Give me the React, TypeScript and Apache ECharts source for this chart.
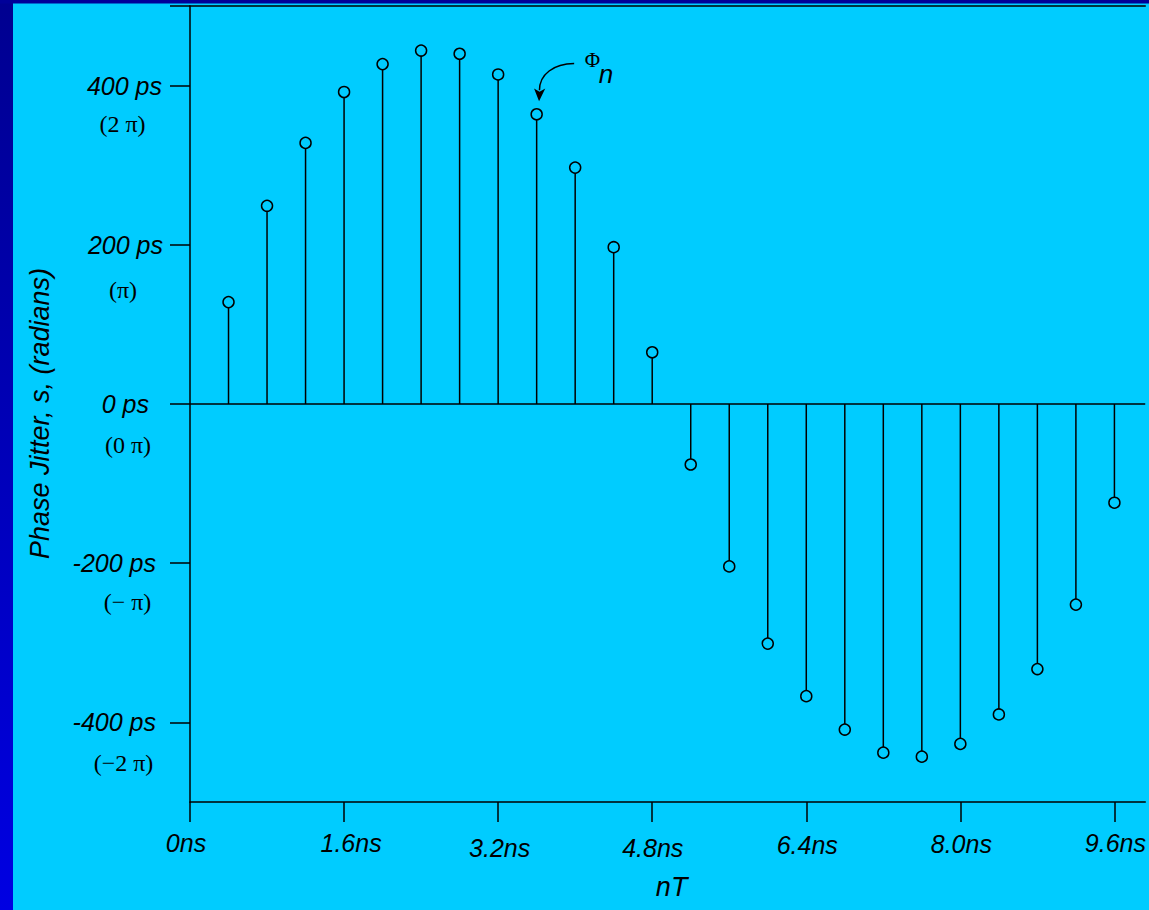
import { useEffect, useRef } from 'react';
import * as echarts from 'echarts';

// Sample instants (ns) and the phase jitter measured at each one (ps)
const sampleTimesNs = [0.4, 0.8, 1.2, 1.6, 2.0, 2.4, 2.8, 3.2, 3.6, 4.0, 4.4, 4.8, 5.2, 5.6, 6.0, 6.4, 6.8, 7.2, 7.6, 8.0, 8.4, 8.8, 9.2, 9.6];
const phaseJitterPs = [128, 249, 328, 392, 427, 444, 440, 414, 364, 297, 197, 65, -76, -204, -301, -367, -409, -438, -443, -427, -390, -333, -252, -124];

// Axis ticks and their labels
const xTickValues = [0, 1.6, 3.2, 4.8, 6.4, 8.0, 9.6];
const xTickLabels = ['0ns', '1.6ns', '3.2ns', '4.8ns', '6.4ns', '8.0ns', '9.6ns'];
const yTickValues = [400, 200, 0, -200, -400];
const yTickLabels = ['400 ps', '200 ps', '0 ps', '-200 ps', '-400 ps'];
const yRadianLabels = ['(2 π)', '(π)', '(0 π)', '(− π)', '(−2 π)'];
const yTickMarks = [500, 400, 200, 0, -200, -400];

// Sample that the Φn callout points at
const annotatedIndex = 8;

const SANS = '"Liberation Sans", Arial, sans-serif';
const SERIF = '"Liberation Serif", "Times New Roman", serif';
const BG = '#00CCFF';
const INK = '#000000';

// Per-label nudges of the hand-placed tick labels: [dx, dy]
const X_LABEL_NUDGE = [[-4, 0], [7, 0], [1.5, 5], [0.5, 5], [1, 2], [1, 1], [1, 0]];
const Y_LABEL_RIGHT_PAD = [1, 0, 14, 7, 7];
// Radian labels under each ps label: [centre x, offset below tick]
const RADIAN_POS = [[122.5, 38], [123, 45], [128, 41], [127.5, 39], [123.5, 41]];

const X_MAX = 9.92;

function buildOption(): echarts.EChartsOption {
  const points = sampleTimesNs.map((t, i) => [t, phaseJitterPs[i]]);

  const xRich: Record<string, any> = {};
  X_LABEL_NUDGE.forEach(([dx, dy], i) => {
    xRich['x' + i] = {
      fontSize: 25,
      fontStyle: 'italic',
      fontFamily: SANS,
      color: INK,
      padding: [dy, dx < 0 ? -2 * dx : 0, 0, dx > 0 ? 2 * dx : 0],
    };
  });
  const yRich: Record<string, any> = {};
  Y_LABEL_RIGHT_PAD.forEach((pr, i) => {
    yRich['y' + i] = {
      fontSize: 25,
      fontStyle: 'italic',
      fontFamily: SANS,
      color: INK,
      padding: [0, pr, 0, 0],
    };
  });

  const axisLine = { show: true, onZero: false, lineStyle: { color: INK, width: 1.5 } };

  return {
    animation: false,
    backgroundColor: BG,
    grid: { left: 190, right: 0, top: 6, bottom: 108, containLabel: false },
    xAxis: [
      {
        type: 'value',
        position: 'bottom',
        min: 0,
        max: X_MAX,
        axisLine,
        axisTick: {
          show: true,
          inside: false,
          length: 20,
          customValues: xTickValues,
          lineStyle: { color: INK, width: 1.5 },
        },
        axisLabel: {
          customValues: xTickValues,
          margin: 28,
          fontSize: 25,
          fontStyle: 'italic',
          fontFamily: SANS,
          color: INK,
          rich: xRich,
          formatter: (v: number) => {
            const i = xTickValues.findIndex((t) => Math.abs(t - v) < 1e-6);
            return i < 0 ? '' : `{x${i}|${xTickLabels[i]}}`;
          },
        },
        splitLine: { show: false },
        name: 'nT',
        nameLocation: 'middle',
        nameGap: 71,
        nameTextStyle: {
          fontSize: 27,
          fontStyle: 'italic',
          fontFamily: SANS,
          color: INK,
          padding: [0, 0, 0, 8],
        },
      },
      {
        type: 'value',
        position: 'top',
        min: 0,
        max: X_MAX,
        axisLine,
        axisTick: { show: false },
        axisLabel: { show: false },
        splitLine: { show: false },
      },
    ],
    yAxis: {
      type: 'value',
      min: -500,
      max: 500,
      axisLine,
      axisTick: {
        show: true,
        inside: false,
        length: 20,
        customValues: yTickMarks,
        lineStyle: { color: INK, width: 1.5 },
      },
      axisLabel: {
        customValues: yTickValues,
        margin: 27,
        align: 'right',
        fontSize: 25,
        fontStyle: 'italic',
        fontFamily: SANS,
        color: INK,
        rich: yRich,
        formatter: (v: number) => {
          const i = yTickValues.findIndex((t) => Math.abs(t - v) < 1e-6);
          return i < 0 ? '' : `{y${i}|${yTickLabels[i]}}`;
        },
      },
      splitLine: { show: false },
    },
    series: [
      {
        // vertical stems from the zero line to each sample
        type: 'custom',
        xAxisIndex: 0,
        yAxisIndex: 0,
        data: points,
        encode: { x: 0, y: 1 },
        z: 2,
        silent: true,
        renderItem: (_params: any, api: any) => {
          const base = api.coord([api.value(0), 0]);
          const tip = api.coord([api.value(0), api.value(1)]);
          return {
            type: 'line',
            shape: { x1: base[0], y1: base[1], x2: tip[0], y2: tip[1] },
            style: { stroke: INK, lineWidth: 1.5 },
          };
        },
      },
      {
        // open circles at the sample values, plus the zero reference line
        type: 'scatter',
        xAxisIndex: 0,
        yAxisIndex: 0,
        data: points,
        symbol: 'circle',
        symbolSize: 11,
        z: 3,
        silent: true,
        itemStyle: { color: BG, borderColor: INK, borderWidth: 1.5, opacity: 1 },
        markLine: {
          silent: true,
          symbol: ['none', 'none'],
          label: { show: false },
          lineStyle: { color: INK, width: 1.5, type: 'solid' },
          data: [{ yAxis: 0 }],
        },
      },
    ],
  };
}

function buildGraphics(chart: echarts.ECharts): any[] {
  const toPx = (x: number, y: number) =>
    chart.convertToPixel({ gridIndex: 0 }, [x, y]) as number[];

  const elements: any[] = [
    {
      type: 'rect',
      shape: { x: 0, y: 0, width: 13, height: 910 },
      style: {
        fill: new echarts.graphic.LinearGradient(0, 0, 0, 1, [
          { offset: 0, color: '#000090' },
          { offset: 1, color: '#0000E2' },
        ]),
      },
      silent: true,
    },
    {
      type: 'rect',
      shape: { x: 0, y: 0, width: 1149, height: 3.5 },
      style: { fill: '#000099' },
      silent: true,
    },
    {
      type: 'text',
      x: 39.5,
      y: 413.5,
      rotation: Math.PI / 2,
      style: {
        text: 'Phase Jitter, s, (radians)',
        fontSize: 27,
        fontStyle: 'italic',
        fontFamily: SANS,
        fill: INK,
        align: 'center',
        verticalAlign: 'middle',
      },
      silent: true,
    },
  ];

  yTickValues.forEach((v, i) => {
    const [, py] = toPx(0, v);
    const [cx, dy] = RADIAN_POS[i];
    elements.push({
      type: 'text',
      x: cx,
      y: py + dy,
      style: {
        text: yRadianLabels[i],
        fontSize: 24,
        fontFamily: SERIF,
        fill: INK,
        align: 'center',
        verticalAlign: 'middle',
      },
      silent: true,
    });
  });

  // Φn callout (Φ with the n set lower as a subscript) and a curved arrow
  // onto the annotated sample
  const [px, py] = toPx(sampleTimesNs[annotatedIndex], phaseJitterPs[annotatedIndex]);
  elements.push(
    {
      type: 'text',
      x: px + 48.2,
      y: py - 61,
      style: {
        text: '{p|Φ}\n{s|n}',
        align: 'left',
        verticalAlign: 'top',
        fill: INK,
        rich: {
          p: {
            fontSize: 21,
            fontFamily: SERIF,
            lineHeight: 14,
            fill: INK,
          },
          s: {
            fontSize: 26,
            fontStyle: 'italic',
            fontFamily: SANS,
            lineHeight: 13,
            padding: [0, 0, 0, 14],
            fill: INK,
          },
        },
      },
      silent: true,
    },
    {
      type: 'bezierCurve',
      shape: {
        x1: px + 37.5,
        y1: py - 50.7,
        cpx1: px + 17,
        cpy1: py - 50.5,
        cpx2: px + 2.8,
        cpy2: py - 40,
        x2: px + 2.8,
        y2: py - 24,
      },
      style: { stroke: INK, lineWidth: 1.5, fill: 'none' },
      silent: true,
    },
    {
      type: 'polygon',
      shape: {
        points: [
          [px + 2.4, py - 13],
          [px - 2.6, py - 25.7],
          [px + 2.9, py - 22.5],
          [px + 8.6, py - 25.7],
        ],
      },
      style: { fill: INK, stroke: 'none' },
      silent: true,
    }
  );

  return elements;
}

export default function App() {
  const ref = useRef<HTMLDivElement>(null);

  useEffect(() => {
    const el = ref.current;
    if (!el) return;
    const chart = echarts.init(el, null, { renderer: 'svg' });
    chart.setOption(buildOption());
    chart.setOption({ graphic: { elements: buildGraphics(chart) } });
    return () => {
      chart.dispose();
    };
  }, []);

  return (
    <div
      ref={ref}
      style={{ position: 'absolute', left: 0, top: 0, width: 1149, height: 910 }}
    />
  );
}
